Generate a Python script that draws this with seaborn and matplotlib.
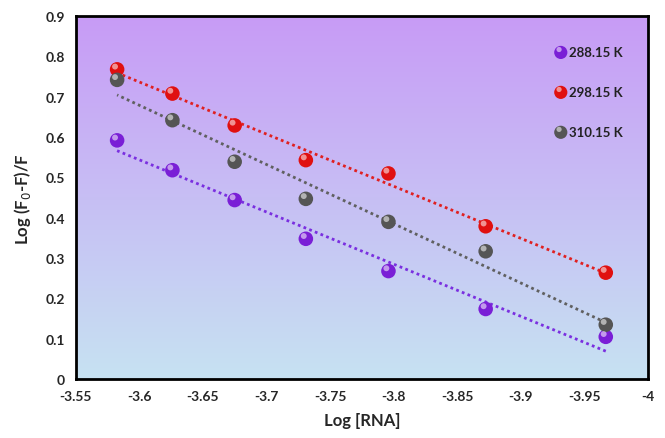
import numpy as np
import pandas as pd
import matplotlib
matplotlib.use("Agg")
import matplotlib.pyplot as plt
import matplotlib.transforms as mtransforms
import seaborn as sns

log_rna = [-3.5825, -3.626, -3.675, -3.731, -3.796, -3.8725, -3.967]
f_288 = [0.592, 0.518, 0.444, 0.348, 0.268, 0.174, 0.105]
f_298 = [0.768, 0.708, 0.629, 0.543, 0.510, 0.379, 0.264]
f_310 = [0.742, 0.642, 0.539, 0.447, 0.390, 0.317, 0.135]
temps = ["288.15 K", "298.15 K", "310.15 K"]
colors = ["#7a1fd6", "#e01010", "#555555"]
line_colors = ["#7a2fe0", "#e02020", "#606060"]

df = pd.DataFrame({
    "x": log_rna * 3,
    "y": f_288 + f_298 + f_310,
    "T": [t for t in temps for _ in log_rna],
})

sns.set_style("white")
plt.rcParams["font.family"] = ["Lato", "DejaVu Sans"]

fig = plt.figure(figsize=(6.65, 4.39), dpi=100)
ax = fig.add_axes([0.114, 0.134, 0.860, 0.827])

# gradient background
grad = np.linspace(0, 1, 256).reshape(-1, 1)
top = np.array([200, 155, 246]) / 255
bot = np.array([198, 226, 242]) / 255
img = top[None, None, :] * (1 - grad[:, :, None]) + bot[None, None, :] * grad[:, :, None]
ax.imshow(img, extent=[0, 1, 0, 1], transform=ax.transAxes, aspect="auto", zorder=0)

for t, c, lc in zip(temps, colors, line_colors):
    sub = df[df["T"] == t]
    sns.regplot(data=sub, x="x", y="y", ax=ax, scatter=False, ci=None, truncate=True,
                line_kws=dict(color=lc, linestyle=(0, (1, 1.2)), linewidth=2.0, zorder=2))
    sns.scatterplot(data=sub, x="x", y="y", ax=ax, color=c, s=110, edgecolor="none",
                    zorder=3, legend=False)
    # highlight to give a shaded ball look
    off = mtransforms.offset_copy(ax.transData, fig=fig, x=-1.5, y=2, units="points")
    ax.scatter(sub["x"], sub["y"], s=18, color="white", alpha=0.55, edgecolor="none",
               transform=off, zorder=4)

# legend entries placed by hand inside the axes
for i, (t, c) in enumerate(zip(temps, colors)):
    yy = 0.90 - i * 0.11
    ax.scatter([0.848], [yy], s=90, color=c, transform=ax.transAxes, zorder=5, edgecolor="none")
    ax.scatter([0.845], [yy + 0.008], s=14, color="white", alpha=0.55,
               transform=ax.transAxes, zorder=6, edgecolor="none")
    ax.text(0.862, yy, t, transform=ax.transAxes, va="center", ha="left",
            fontsize=9.5, fontweight="bold", color="#222222", zorder=6)

ax.set_xlim(-3.55, -4.0)
ax.set_ylim(0, 0.9)
ax.set_xticks(np.arange(-3.55, -4.001, -0.05))
ax.set_yticks(np.arange(0, 0.901, 0.1))
ax.xaxis.set_major_formatter(matplotlib.ticker.FuncFormatter(lambda v, p: f"{v:g}"))
ax.yaxis.set_major_formatter(matplotlib.ticker.FuncFormatter(lambda v, p: f"{v:.1f}" if v else "0"))
ax.tick_params(length=0, labelsize=10, pad=8)
for lab in ax.get_xticklabels() + ax.get_yticklabels():
    lab.set_fontweight("bold")
ax.set_xlabel("Log [RNA]", fontsize=12, fontweight="bold", labelpad=7)
ax.set_ylabel("Log (F$_0$-F)/F", fontsize=12, fontweight="bold", labelpad=9)
for s in ax.spines.values():
    s.set_visible(True)
    s.set_color("black")
    s.set_linewidth(2)

fig.savefig("out.png", dpi=100)
